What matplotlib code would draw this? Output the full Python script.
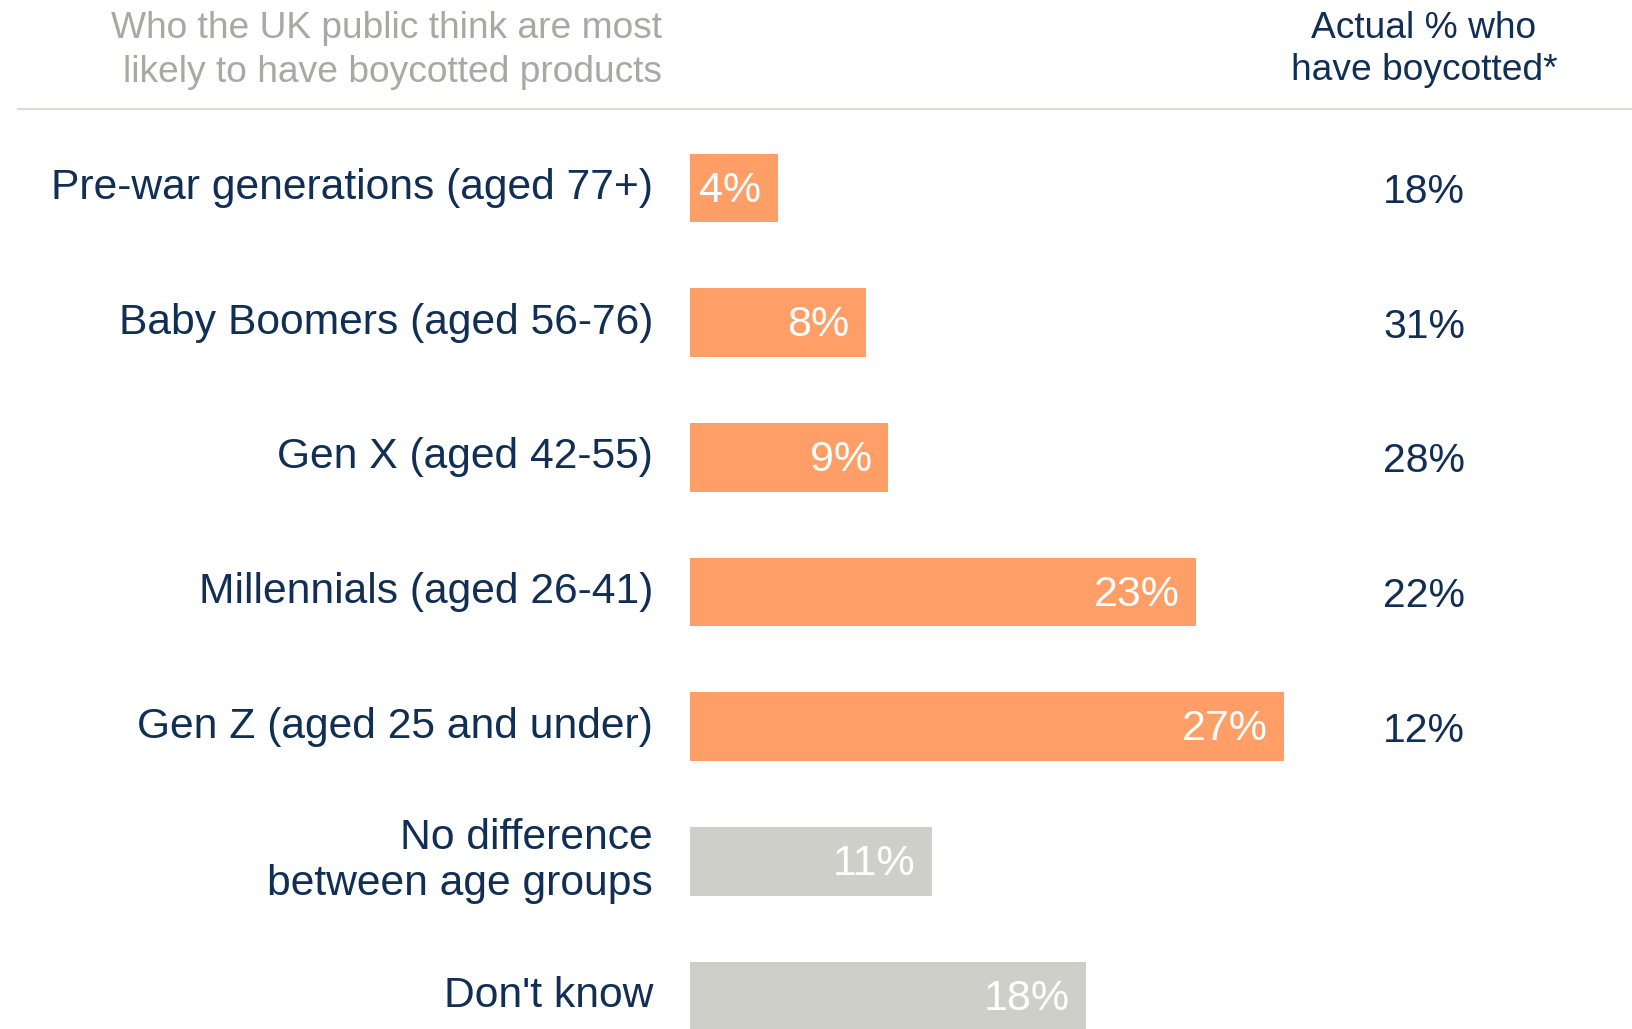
import matplotlib.pyplot as plt

plt.rcParams['font.family'] = ['Liberation Sans', 'DejaVu Sans']

categories = ["Pre-war generations (aged 77+)", "Baby Boomers (aged 56-76)",
              "Gen X (aged 42-55)", "Millennials (aged 26-41)",
              "Gen Z (aged 25 and under)", "No difference\nbetween age groups",
              "Don't know"]
perceived = [4, 8, 9, 23, 27, 11, 18]
actual = ["18%", "31%", "28%", "22%", "12%", "", ""]
is_group = [True, True, True, True, True, False, False]

NAVY = '#112F55'
ORANGE = '#FF9E66'
GREY = '#CFCFCA'
HEAD_GREY = '#A7A9A2'

W, H = 1632, 1029
fig = plt.figure(figsize=(W / 100, H / 100), dpi=100)

# axes spanning from bar baseline (x=690px) to right edge, line (y=109px) to bottom
ax = fig.add_axes([690 / W, 0, 1 - 690 / W, (H - 109) / H])
px_per_pct = 22
ax.set_xlim(0, (W - 690) / px_per_pct)
step = 134.67
ax.set_ylim(6 + 33 / step, -79 / step)
ax.axis('off')

colors = [ORANGE if g else GREY for g in is_group]
ypos = list(range(len(categories)))
ax.barh(ypos, perceived, height=0.51, color=colors)

for y, v, lab in zip(ypos, perceived, categories):
    ax.text(v - 0.75, y + 0.02, f"{v}%", ha='right', va='center', color='white', fontsize=31)
    ax.text(-37 / px_per_pct, y, lab, ha='right', va='center', color=NAVY,
            fontsize=30.7, linespacing=1.2, clip_on=False)

for y, a in zip(ypos, actual):
    if a:
        ax.text((1424 - 690) / px_per_pct, y + 0.03, a, ha='center', va='center',
                color=NAVY, fontsize=29.5)

# header
fig.text(662 / W, 1 - 29 / H, "Who the UK public think are most", ha='right', va='center',
         color=HEAD_GREY, fontsize=26.7)
fig.text(662 / W, 1 - 72 / H, "likely to have boycotted products", ha='right', va='center',
         color=HEAD_GREY, fontsize=26.7)
fig.text(1424 / W, 1 - 28 / H, "Actual % who", ha='center', va='center',
         color=NAVY, fontsize=26.7)
fig.text(1424 / W, 1 - 71 / H, "have boycotted*", ha='center', va='center',
         color=NAVY, fontsize=26.7)
fig.add_artist(plt.Line2D([18 / W, 1], [1 - 109 / H, 1 - 109 / H], color='#DADAD6', lw=1.5))

fig.savefig('out.png', dpi=100)
